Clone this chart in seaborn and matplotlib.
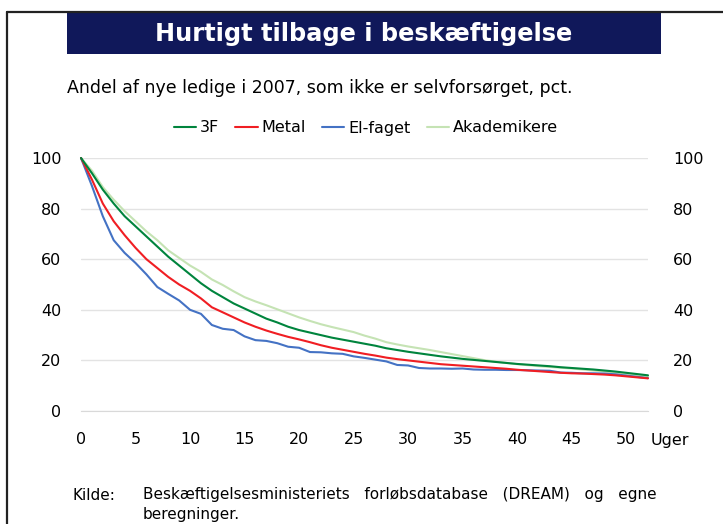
import numpy as np
import pandas as pd
import seaborn as sns
import matplotlib.pyplot as plt
from matplotlib.lines import Line2D
from matplotlib.patches import Rectangle

# data (share not self-supporting, pct.)
weeks = list(range(0, 53))

tre_f = [100, 94, 87.5, 82, 77, 73, 69, 65, 61, 57.5, 54, 50.5, 47.5, 45, 42.5,
         40.5, 38.5, 36.5, 35, 33.3, 32, 31, 30, 29, 28.2, 27.4, 26.6, 25.8, 24.8,
         24.1, 23.4, 22.8, 22.2, 21.6, 21.1, 20.6, 20.2, 19.8, 19.4, 19, 18.6,
         18.3, 18, 17.7, 17.3, 17, 16.7, 16.4, 16, 15.6, 15.1, 14.6, 14.1]

metal = [100, 91.5, 82, 75, 69.5, 64.5, 60, 56.5, 53, 50, 47.5, 44.5, 41, 39, 37,
         35, 33.3, 31.8, 30.5, 29.3, 28.3, 27.2, 26, 25, 24.2, 23.4, 22.6, 21.9,
         21.1, 20.5, 20, 19.5, 19, 18.5, 18.2, 17.9, 17.6, 17.3, 17, 16.7, 16.3,
         16, 15.7, 15.4, 15.1, 14.9, 14.8, 14.6, 14.4, 14.1, 13.7, 13.3, 12.9]

el_faget = [100, 89, 77, 67.5, 62.5, 58.5, 54, 49, 46.3, 43.7, 40, 38.4, 34, 32.5,
            32, 29.5, 28, 27.7, 26.8, 25.4, 25, 23.3, 23.2, 22.8, 22.6, 21.6, 21,
            20.3, 19.6, 18.2, 18, 17, 16.8, 16.8, 16.7, 16.8, 16.4, 16.3, 16.3,
            16.2, 16.2, 16.1, 16, 15.9, 15.2, 15.1, 14.9, 14.9, 14.8, 14.5, 14,
            13.5, 13]

akademikere = [100, 95, 88.5, 83.5, 79, 75, 71, 67.5, 63.5, 60.5, 57.5, 55, 52,
               49.8, 47.3, 45, 43.3, 41.8, 40.2, 38.6, 37, 35.6, 34.3, 33.2, 32.2,
               31.2, 29.8, 28.6, 27.2, 26.3, 25.5, 24.8, 24.1, 23.3, 22.5, 21.7,
               20.9, 20.1, 19.5, 19, 18.5, 18.1, 17.7, 17.4, 17.1, 16.8, 16.4, 16,
               15.6, 15.1, 14.6, 14.1, 13.5]

series_names = ["3F", "Metal", "El-faget", "Akademikere"]
colors = ["#00843d", "#f01e23", "#4472c4", "#c5e3b4"]

df = pd.DataFrame({
    "uge": weeks * 4,
    "andel": tre_f + metal + el_faget + akademikere,
    "gruppe": np.repeat(series_names, len(weeks)),
})

sns.set_style("white")
plt.rcParams["font.family"] = ["DejaVu Sans"]
plt.rcParams["text.color"] = "black"
plt.rcParams["xtick.color"] = "black"
plt.rcParams["ytick.color"] = "black"

fig = plt.figure(figsize=(7.23, 5.24), dpi=100)
W, H = 723, 524

# outer frame (top and left edge)
fig.add_artist(Line2D([7 / W, 7 / W], [0, 1 - 12 / H], color="#222222", lw=1.6))
fig.add_artist(Line2D([7 / W, 1], [1 - 12 / H, 1 - 12 / H], color="#222222", lw=1.6))

# title banner
fig.add_artist(Rectangle((67 / W, 1 - 54 / H), (661 - 67) / W, 41 / H,
                         facecolor="#10185a", edgecolor="none"))
fig.text(364 / W, 1 - 34 / H, "Hurtigt tilbage i beskæftigelse", color="white",
         fontsize=17.3, fontweight="bold", ha="center", va="center")
fig.text(67 / W, 1 - 88 / H,
         "Andel af nye ledige i 2007, som ikke er selvforsørget, pct.",
         fontsize=12.5, ha="left", va="center")

ax = fig.add_axes([81 / W, 1 - 411 / H, (648 - 81) / W, (411 - 158) / H])

palette = dict(zip(series_names, colors))
order = ["Akademikere", "El-faget", "Metal", "3F"]
for name in order:
    sub = df[df["gruppe"] == name]
    sns.lineplot(data=sub, x="uge", y="andel", color=palette[name], lw=1.5,
                 ax=ax, clip_on=False, zorder=3)

ax.set_xlim(0, 52)
ax.set_ylim(0, 100)
ax.set_xticks(range(0, 51, 5))
ax.set_yticks(range(0, 101, 20))
ax.set_xlabel("")
ax.set_ylabel("")
ax.grid(axis="y", color="#e3e3e3", lw=1)
ax.grid(axis="x", visible=False)
for side in ["top", "right", "left"]:
    ax.spines[side].set_visible(False)
ax.spines["bottom"].set_color("#d9d9d9")
ax.tick_params(axis="x", length=5, color="#d9d9d9", pad=10, labelsize=11.5)
ax.tick_params(axis="y", length=0, pad=14, labelsize=11.5)

ax2 = ax.twinx()
ax2.set_ylim(0, 100)
ax2.set_yticks(range(0, 101, 20))
ax2.tick_params(axis="y", length=0, pad=18, labelsize=11.5)
for side in ["top", "right", "left", "bottom"]:
    ax2.spines[side].set_visible(False)

ax.text(1.005, -0.115, "Uger", transform=ax.transAxes, fontsize=11.5,
        ha="left", va="center")

handles = [Line2D([], [], color=c, lw=1.5) for c in colors]
fig.legend(handles, series_names, loc="center", bbox_to_anchor=(366 / W, 1 - 128 / H),
           ncol=4, frameon=False, fontsize=11.5, handlelength=1.4,
           handletextpad=0.25, columnspacing=1.0)

# source note
fig.text(73 / W, 1 - 495 / H, "Kilde:", fontsize=11, ha="left", va="center")
fig.text(143 / W, 1 - 495 / H,
         "Beskæftigelsesministeriets   forløbsdatabase   (DREAM)   og   egne",
         fontsize=11, ha="left", va="center")
fig.text(143 / W, 1 - 515 / H, "beregninger.", fontsize=11, ha="left", va="center")

fig.savefig("out.png", dpi=100)
